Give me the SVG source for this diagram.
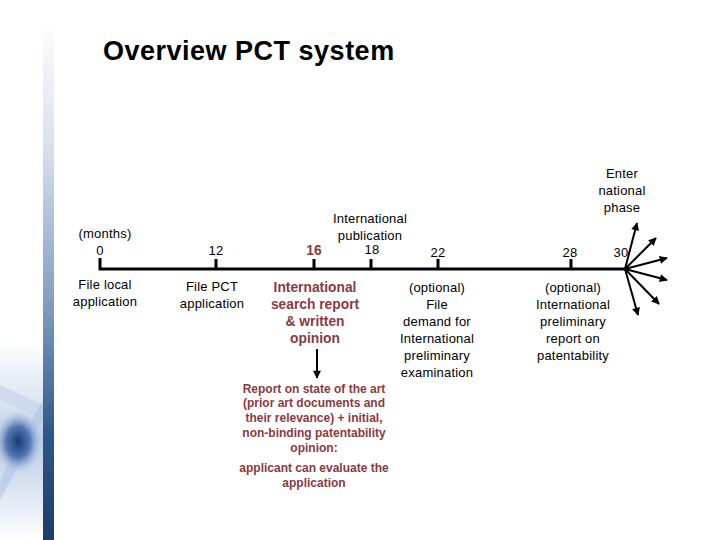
<svg xmlns="http://www.w3.org/2000/svg" width="720" height="540" viewBox="0 0 720 540">
<defs>
<linearGradient id="bar" x1="0" y1="0" x2="0" y2="1">
<stop offset="0" stop-color="#ffffff"/>
<stop offset="0.25" stop-color="#d6e0ec"/>
<stop offset="0.55" stop-color="#7f9cc0"/>
<stop offset="0.8" stop-color="#2f5688"/>
<stop offset="1" stop-color="#1c3c6a"/>
</linearGradient>
<linearGradient id="deco" x1="0" y1="0" x2="0" y2="1">
<stop offset="0" stop-color="#ffffff"/>
<stop offset="0.3" stop-color="#dde6f3"/>
<stop offset="0.5" stop-color="#b9cbe6"/>
<stop offset="0.75" stop-color="#dbe5f3"/>
<stop offset="1" stop-color="#ffffff"/>
</linearGradient>
<radialGradient id="blot" cx="0.5" cy="0.5" r="0.5">
<stop offset="0" stop-color="#143a7a"/>
<stop offset="0.5" stop-color="#5478b2"/>
<stop offset="1" stop-color="#b9cbe6" stop-opacity="0"/>
</radialGradient>
<marker id="ah" viewBox="0 0 10 10" refX="9" refY="5" markerWidth="9" markerHeight="8" markerUnits="userSpaceOnUse" orient="auto">
<path d="M0,0 L10,5 L0,10 z" fill="#000"/>
</marker>
<style>
.t{font-family:"Liberation Sans",Arial,sans-serif;font-size:13px;letter-spacing:0.2px;fill:#000;text-anchor:middle}
.r{font-family:"Liberation Sans",Arial,sans-serif;font-size:13.8px;font-weight:bold;fill:#8b3a3e;text-anchor:middle}
.rs{font-family:"Liberation Sans",Arial,sans-serif;font-size:12px;font-weight:bold;fill:#8b3a3e;text-anchor:middle}
.ln{stroke:#000;stroke-width:3;fill:none}
.ar{stroke:#000;stroke-width:2;fill:none;marker-end:url(#ah)}
</style>
</defs>
<rect width="720" height="540" fill="#fff"/>
<g id="decoration">
<rect x="0" y="340" width="43" height="200" fill="url(#deco)"/>
<polygon points="0,385 43,405 43,420 0,400" fill="#c8d6ec" opacity="0.7"/>
<polygon points="43,400 0,480 0,500 43,420" fill="#a9bfe2" opacity="0.5"/>
<ellipse cx="18" cy="442" rx="24" ry="32" fill="url(#blot)"/>
<rect x="43" y="20" width="11" height="520" fill="url(#bar)"/>
</g>
<text x="103" y="60" font-family="Liberation Sans,Arial,sans-serif" font-size="27" letter-spacing="0.5" font-weight="bold" fill="#000">Overview PCT system</text>
<g id="connectors">
<path class="ln" d="M100,258 V269 H625"/>
<path class="ln" d="M216,259 V269 M314,259 V269 M371,259 V269 M438,259 V269 M571,259 V269"/>
<line class="ar" x1="625" y1="269" x2="637" y2="223"/>
<line class="ar" x1="625" y1="269" x2="656" y2="238"/>
<line class="ar" x1="625" y1="269" x2="667" y2="258"/>
<line class="ar" x1="625" y1="269" x2="667" y2="280"/>
<line class="ar" x1="625" y1="269" x2="659" y2="304"/>
<line class="ar" x1="625" y1="269" x2="638" y2="315"/>
<line class="ar" x1="317" y1="349" x2="317" y2="378"/>
</g>
<g id="m0">
<text class="t" x="105" y="238">(months)</text>
<text class="t" x="100" y="255">0</text>
<text class="t" x="105" y="289">File local</text>
<text class="t" x="105" y="306">application</text>
</g>
<g id="m12">
<text class="t" x="216" y="255">12</text>
<text class="t" x="212" y="291">File PCT</text>
<text class="t" x="212" y="308">application</text>
</g>
<g id="m16">
<text class="r" x="314" y="255">16</text>
<text class="r" x="315" y="292">International</text>
<text class="r" x="315" y="309">search report</text>
<text class="r" x="315" y="326">&amp; written</text>
<text class="r" x="315" y="343">opinion</text>
</g>
<g id="report">
<text class="rs" x="314" y="393">Report on state of the art</text>
<text class="rs" x="314" y="407">(prior art documents and</text>
<text class="rs" x="314" y="422">their relevance) + initial,</text>
<text class="rs" x="314" y="437">non-binding patentability</text>
<text class="rs" x="314" y="452">opinion:</text>
<text class="rs" x="314" y="472">applicant can evaluate the</text>
<text class="rs" x="314" y="487">application</text>
</g>
<g id="m18">
<text class="t" x="370" y="223">International</text>
<text class="t" x="370" y="240">publication</text>
<text class="t" x="372" y="254">18</text>
</g>
<g id="m22">
<text class="t" x="438" y="257">22</text>
<text class="t" x="437" y="292">(optional)</text>
<text class="t" x="437" y="309">File</text>
<text class="t" x="437" y="326">demand for</text>
<text class="t" x="437" y="343">International</text>
<text class="t" x="437" y="360">preliminary</text>
<text class="t" x="437" y="377">examination</text>
</g>
<g id="m28">
<text class="t" x="570" y="257">28</text>
<text class="t" x="573" y="292">(optional)</text>
<text class="t" x="573" y="309">International</text>
<text class="t" x="573" y="326">preliminary</text>
<text class="t" x="573" y="343">report on</text>
<text class="t" x="573" y="360">patentability</text>
</g>
<g id="m30">
<text class="t" x="621" y="257">30</text>
<text class="t" x="622" y="178">Enter</text>
<text class="t" x="622" y="195">national</text>
<text class="t" x="622" y="212">phase</text>
</g>
</svg>
